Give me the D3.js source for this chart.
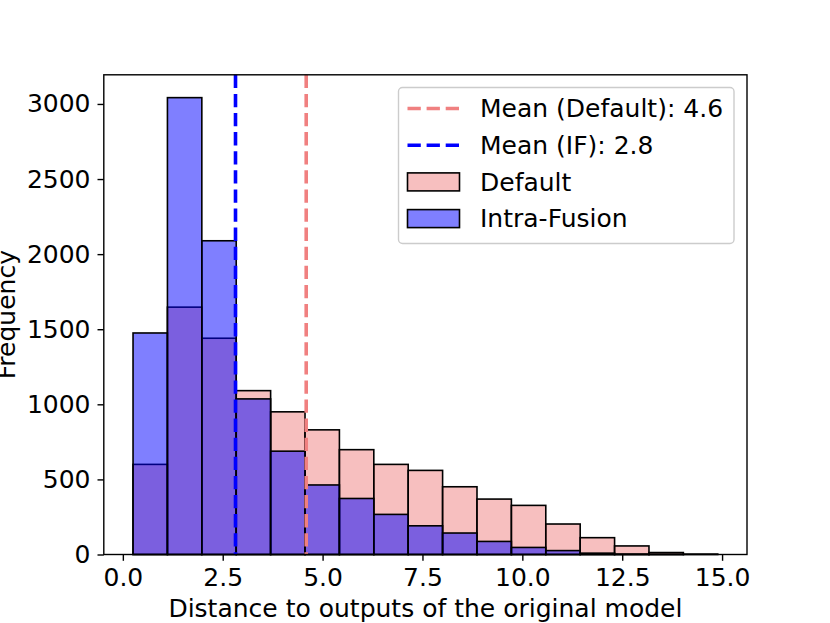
<!DOCTYPE html>
<html>
<head>
<meta charset="utf-8">
<script src="https://cdn.jsdelivr.net/npm/d3@7"></script>
<style>
body {
  margin: 0;
  background-color: white;
}
text {
  font-family: "DejaVu Sans", sans-serif;
  fill: black;
}
.axis path,
.axis line {
  stroke: black;
  stroke-width: 1.4;
}
.axis text {
  font-size: 25px;
}
</style>
</head>
<body>
<script>
// bin edges shared by both histograms
const binEdges = [0.255, 1.116, 1.977, 2.838, 3.699, 4.560, 5.421, 6.282, 7.143,
                  8.004, 8.865, 9.726, 10.587, 11.448, 12.309, 13.170, 14.031, 14.892];
const defaultCounts = [600, 1647, 1440, 1091, 950, 830, 698, 600, 560,
                       451, 369, 327, 203, 112, 57, 13, 3];
const fusionCounts = [1475, 3042, 2089, 1036, 688, 463, 373, 267, 191,
                      143, 87, 47, 26, 9, 3, 1, 0];
const meanDefault = 4.59;
const meanIF = 2.82;
const xTicks = [0, 2.5, 5, 7.5, 10, 12.5, 15];
const yTicks = [0, 500, 1000, 1500, 2000, 2500, 3000];

const W = 830, H = 623;
const FS = 25;
const svg = d3.select("body")
              .append("svg")
              .attr("width", W)
              .attr("height", H);

const margin = {top: 74.8, right: 83, bottom: 68.5, left: 103.8};
const width = W - margin.left - margin.right;
const height = H - margin.top - margin.bottom;
const g = svg.append("g")
             .attr("transform", `translate(${margin.left}, ${margin.top})`);

// matplotlib-like 5% margins on x, 5% headroom on y
const lo = binEdges[0], hi = binEdges[binEdges.length - 1];
const pad = (hi - lo) * 0.05;
const xScale = d3.scaleLinear().domain([lo - pad, hi + pad]).range([0, width]);
const yMax = d3.max(fusionCounts.concat(defaultCounts)) * 1.05;
const yScale = d3.scaleLinear().domain([0, yMax]).range([height, 0]);

const bins = (counts) => counts.map((c, i) => ({x0: binEdges[i], x1: binEdges[i + 1], c}));

function drawHist(counts, fill) {
  g.append("g")
   .selectAll("rect")
   .data(bins(counts))
   .join("rect")
   .attr("x", d => xScale(d.x0))
   .attr("width", d => xScale(d.x1) - xScale(d.x0))
   .attr("y", d => yScale(d.c))
   .attr("height", d => height - yScale(d.c))
   .attr("fill", fill)
   .attr("fill-opacity", 0.5)
   .attr("stroke", "black")
   .attr("stroke-width", 1.6);
}
drawHist(defaultCounts, "lightcoral");
drawHist(fusionCounts, "blue");

const dash = "13.3,5.8";
function meanLine(v, color) {
  g.append("line")
   .attr("x1", xScale(v)).attr("x2", xScale(v))
   .attr("y1", 0).attr("y2", height)
   .attr("stroke", color)
   .attr("stroke-width", 3.6)
   .attr("stroke-dasharray", dash);
}
meanLine(meanDefault, "lightcoral");
meanLine(meanIF, "blue");

// axes
const xAxis = d3.axisBottom(xScale).tickValues(xTicks).tickFormat(d3.format(".1f"))
                .tickSize(6.3).tickPadding(7.5).tickSizeOuter(0);
const yAxis = d3.axisLeft(yScale).tickValues(yTicks).tickFormat(d3.format("d"))
                .tickSize(6.3).tickPadding(7).tickSizeOuter(0);

g.append("g")
 .attr("class", "axis")
 .attr("transform", `translate(0, ${height})`)
 .call(xAxis)
 .call(a => a.select(".domain").remove());

g.append("g")
 .attr("class", "axis")
 .call(yAxis)
 .call(a => a.select(".domain").remove());

// frame
g.append("rect")
 .attr("width", width)
 .attr("height", height)
 .attr("fill", "none")
 .attr("stroke", "black")
 .attr("stroke-width", 1.4);

svg.append("text")
   .attr("x", margin.left + width / 2)
   .attr("y", 616.5)
   .attr("text-anchor", "middle")
   .attr("font-size", FS)
   .text("Distance to outputs of the original model");

svg.append("text")
   .attr("transform", `translate(15, ${margin.top + height / 2}) rotate(-90)`)
   .attr("text-anchor", "middle")
   .attr("font-size", FS)
   .text("Frequency");

// legend
const legendItems = [
  {label: `Mean (Default): ${meanDefault.toFixed(1)}`, type: "line", color: "lightcoral"},
  {label: `Mean (IF): ${meanIF.toFixed(1)}`, type: "line", color: "blue"},
  {label: "Default", type: "patch", color: "lightcoral"},
  {label: "Intra-Fusion", type: "patch", color: "blue"}
];
const legend = svg.append("g").attr("transform", "translate(398.5, 87.5)");
legend.append("rect")
      .attr("width", 335.5)
      .attr("height", 156)
      .attr("rx", 4)
      .attr("fill", "white")
      .attr("fill-opacity", 0.8)
      .attr("stroke", "#cccccc")
      .attr("stroke-width", 1.4);

const rows = legend.selectAll("g.row")
  .data(legendItems)
  .join("g")
  .attr("class", "row")
  .attr("transform", (d, i) => `translate(0, ${21 + i * 36.7})`);

rows.filter(d => d.type === "line")
    .append("line")
    .attr("x1", 9).attr("x2", 61)
    .attr("stroke", d => d.color)
    .attr("stroke-width", 3.6)
    .attr("stroke-dasharray", dash);

rows.filter(d => d.type === "patch")
    .append("rect")
    .attr("x", 9).attr("y", -9)
    .attr("width", 52).attr("height", 18)
    .attr("fill", d => d.color)
    .attr("fill-opacity", 0.5)
    .attr("stroke", "black")
    .attr("stroke-width", 1.6);

rows.append("text")
    .attr("x", 81.5)
    .attr("dy", "0.35em")
    .attr("font-size", FS)
    .text(d => d.label);
</script>
</body>
</html>
